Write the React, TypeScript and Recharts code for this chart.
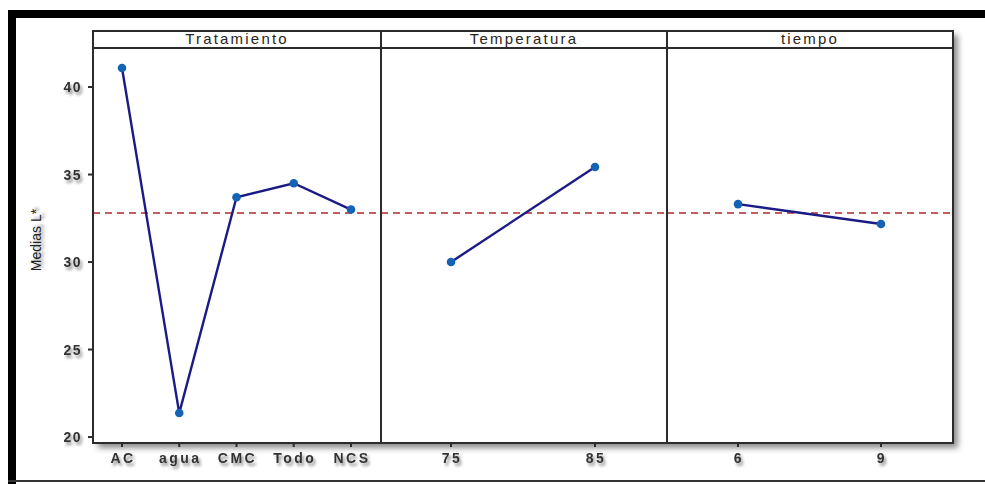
import React from 'react';
import { LineChart, Line, XAxis, YAxis, ReferenceLine } from 'recharts';

// Main-effects means of L* for each factor
const tratamientoCats = ['AC', 'agua', 'CMC', 'Todo', 'NCS'];
const tratamientoMeans = [41.09, 21.37, 33.7, 34.5, 33.0];
const temperaturaCats = ['75', '85'];
const temperaturaMeans = [30.0, 35.43];
const tiempoCats = ['6', '9'];
const tiempoMeans = [33.31, 32.17];
const yTicks = [20, 25, 30, 35, 40];
const grandMean = 32.8;
const panelTitles = ['Tratamiento', 'Temperatura', 'tiempo'];
const yLabel = 'Medias L*';

const toRows = (cats: string[], vals: number[]) => cats.map((c, i) => ({ nivel: c, media: vals[i] }));

const Y_DOMAIN: [number, number] = [19.66, 42.23];
const LINE_COLOR = '#1b1b86';
const DOT_COLOR = '#1463b5';
const REF_COLOR = '#b3282c';
const FONT = '"Liberation Sans", Arial, sans-serif';

const XTick = (props: any) => {
  const { x, y, payload } = props;
  return (
    <text
      x={x + 1}
      y={y}
      dy={12}
      textAnchor="middle"
      fontFamily={FONT}
      fontSize={14}
      fontWeight="bold"
      letterSpacing={2.5}
      fill="#333"
      filter="url(#txtShadow)"
    >
      {payload.value}
    </text>
  );
};

const YTick = (props: any) => {
  const { x, y, payload } = props;
  return (
    <text
      x={x}
      y={y}
      dy={5}
      textAnchor="end"
      fontFamily={FONT}
      fontSize={14}
      fontWeight="bold"
      letterSpacing={1.5}
      fill="#333"
      filter="url(#txtShadow)"
    >
      {payload.value}
    </text>
  );
};

type PanelProps = {
  rows: { nivel: string; media: number }[];
  width: number;
  left: number;
  showY: boolean;
  pad: { left: number; right: number };
};

const Panel = ({ rows, width, left, showY, pad }: PanelProps) => (
  <div style={{ position: 'absolute', left, top: 48 }}>
    <LineChart width={width} height={436} data={rows} margin={{ top: 0, right: 0, bottom: 0, left: 0 }}>
      <XAxis
        dataKey="nivel"
        type="category"
        height={41}
        padding={pad}
        axisLine={false}
        tickSize={4}
        tickMargin={4}
        tickLine={{ stroke: '#2b2b2b', strokeWidth: 2 }}
        tick={<XTick />}
        interval={0}
      />
      <YAxis
        type="number"
        domain={Y_DOMAIN}
        allowDataOverflow
        ticks={yTicks}
        hide={!showY}
        width={showY ? 93 : 0}
        axisLine={false}
        tickSize={5}
        tickMargin={6}
        tickLine={{ stroke: '#2b2b2b', strokeWidth: 2 }}
        tick={<YTick />}
      />
      <ReferenceLine y={grandMean} stroke={REF_COLOR} strokeWidth={1.6} strokeDasharray="7 5" />
      <Line
        type="linear"
        dataKey="media"
        stroke={LINE_COLOR}
        strokeWidth={2.4}
        dot={{ r: 4.3, fill: DOT_COLOR, stroke: DOT_COLOR, strokeWidth: 0 }}
        isAnimationActive={false}
      />
    </LineChart>
  </div>
);

const panels = [
  { box: [93, 381] },
  { box: [381, 667] },
  { box: [667, 953] },
];

export default function App() {
  return (
    <div
      style={{
        position: 'absolute',
        left: 0,
        top: 0,
        width: 985,
        height: 484,
        background: '#fff',
        overflow: 'hidden',
        fontFamily: FONT,
      }}
    >
      <svg width={0} height={0} style={{ position: 'absolute' }}>
        <defs>
          <filter id="txtShadow" x="-30%" y="-40%" width="170%" height="200%">
            <feGaussianBlur in="SourceAlpha" stdDeviation="1.8" result="blur" />
            <feOffset in="blur" dx="2" dy="3" result="off" />
            <feComponentTransfer in="off" result="soft">
              <feFuncA type="linear" slope="0.45" />
            </feComponentTransfer>
            <feMerge>
              <feMergeNode in="soft" />
              <feMergeNode in="SourceGraphic" />
            </feMerge>
          </filter>
        </defs>
      </svg>

      {/* outer frame */}
      <div style={{ position: 'absolute', left: 8, top: 10, width: 977, height: 8, background: '#000' }} />
      <div style={{ position: 'absolute', left: 8, top: 10, width: 8, height: 474, background: '#000' }} />
      <div style={{ position: 'absolute', left: 8, top: 480, width: 977, height: 2, background: '#333' }} />

      {/* panel block with its drop shadow */}
      <div
        style={{
          position: 'absolute',
          left: 93,
          top: 30,
          width: 860,
          height: 413,
          background: '#fff',
          boxShadow: '5px 5px 6px rgba(0,0,0,0.45)',
        }}
      />

      <Panel rows={toRows(tratamientoCats, tratamientoMeans)} width={381} left={0} showY pad={{ left: 29, right: 30 }} />
      <Panel rows={toRows(temperaturaCats, temperaturaMeans)} width={286} left={381} showY={false} pad={{ left: 70, right: 72 }} />
      <Panel rows={toRows(tiempoCats, tiempoMeans)} width={286} left={667} showY={false} pad={{ left: 71, right: 72 }} />

      {/* strips and panel borders */}
      {panels.map((p, i) => (
        <React.Fragment key={panelTitles[i]}>
          <div
            style={{
              position: 'absolute',
              left: p.box[0] - 1,
              top: 30,
              width: p.box[1] - p.box[0] + 2,
              height: 414,
              border: '2px solid #2b2b2b',
              boxSizing: 'border-box',
              pointerEvents: 'none',
            }}
          />
          <div
            style={{
              position: 'absolute',
              left: p.box[0] - 1,
              top: 30,
              width: p.box[1] - p.box[0] + 2,
              height: 19,
              borderBottom: '2px solid #2b2b2b',
              boxSizing: 'border-box',
              textAlign: 'center',
              fontSize: 15,
              lineHeight: '18px',
              letterSpacing: 2.2,
              color: '#2b241a',
            }}
          >
            {panelTitles[i]}
          </div>
        </React.Fragment>
      ))}

      {/* y axis title */}
      <div
        style={{
          position: 'absolute',
          left: 36,
          top: 240,
          transform: 'translate(-50%, -50%) rotate(-90deg)',
          whiteSpace: 'nowrap',
          fontSize: 14,
          color: '#222',
          textShadow: '2px 3px 3px rgba(0,0,0,0.4)',
        }}
      >
        {yLabel}
      </div>
    </div>
  );
}
